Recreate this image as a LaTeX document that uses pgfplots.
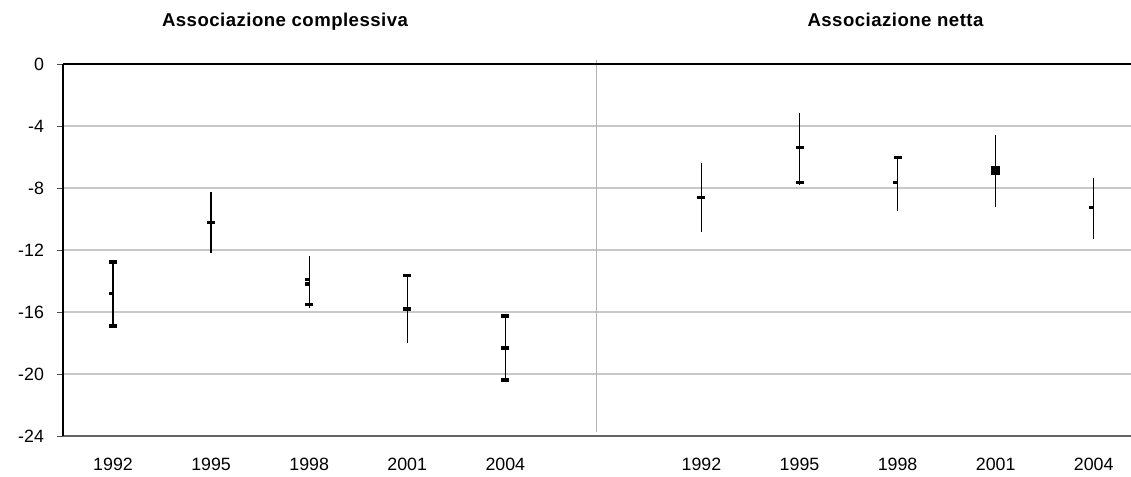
\documentclass[border=0pt]{standalone}
\usepackage{fontspec}
\setmainfont{Liberation Sans}
\usepackage{pgfplots}
\pgfplotsset{compat=1.18}

\definecolor{gridgray}{RGB}{200,200,200}
\definecolor{sepgray}{RGB}{180,180,180}
\definecolor{basegray}{RGB}{100,100,100}

% Small filled mark sitting to the left of the interval line
\pgfdeclareplotmark{lefttick}{%
  \pgfpathrectangle{\pgfpoint{-2.2pt}{-0.85pt}}{\pgfpoint{2.2pt}{1.7pt}}%
  \pgfusepathqfill}
% Wide dash centred on the interval line
\pgfdeclareplotmark{widebar}{%
  \pgfpathrectangle{\pgfpoint{-2pt}{-0.85pt}}{\pgfpoint{4pt}{1.7pt}}%
  \pgfusepathqfill}

\begin{document}
\begin{tikzpicture}
\useasboundingbox (0,0) rectangle (565.5pt,238.5pt);
\begin{axis}[
  at={(31.5pt,20.5pt)}, anchor=south west,
  scale only axis, width=534pt, height=186pt,
  xmin=-0.51, xmax=10.38, ymin=-24, ymax=0,
  axis line style={draw=none},
  clip=false,
  font=\fontsize{8.9pt}{10pt}\selectfont,
  xtick={0,1,2,3,4,6,7,8,9,10},
  xticklabels={1992,1995,1998,2001,2004,1992,1995,1998,2001,2004},
  major x tick style={draw=none},
  xticklabel style={yshift=-4.5pt},
  ytick={-24,-20,-16,-12,-8,-4,0},
  yticklabels={-24,-20,-16,-12,-8,-4,0},
  ymajorgrids, grid style={gridgray, line width=0.8pt},
  tick align=outside, major tick length=3pt,
  y tick style={black!70, line width=0.5pt},
  yticklabel style={xshift=-3pt},
]
% separator between the two panels
\draw[sepgray, line width=0.9pt] (axis cs:4.93,0.26) -- (axis cs:4.93,-23.74);
% frame lines: zero line, base line, left axis
\draw[black, line width=0.9pt] (axis cs:-0.51,0) -- (axis cs:10.38,0);
\draw[basegray, line width=1pt] (axis cs:-0.51,-24) -- (axis cs:10.38,-24);
\draw[black, line width=0.6pt] (axis cs:-0.51,0) -- (axis cs:-0.51,-24);

% interval lines (upper and lower end for each year)
\addplot[black, line width=0.6pt, mark=none, unbounded coords=jump] coordinates {
  (0,-12.77) (0,-17.05) (0,nan)
  (1,-8.28)  (1,-12.21) (1,nan)
  (2,-12.39) (2,-15.72) (2,nan)
  (3,-13.66) (3,-18.02) (3,nan)
  (4,-16.26) (4,-20.45) (4,nan)
  (6,-6.41)  (6,-10.86) (6,nan)
  (7,-3.18)  (7,-7.83)  (7,nan)
  (8,-6.05)  (8,-9.46)  (8,nan)
  (9,-4.58)  (9,-9.25)  (9,nan)
  (10,-7.37) (10,-11.31)
};
% wide dashes
\addplot[only marks, mark=widebar, black] coordinates {
  (0,-12.77) (0,-16.90)
  (1,-10.24)
  (2,-15.53)
  (3,-13.66) (3,-15.81)
  (4,-16.26) (4,-18.32) (4,-20.39)
  (6,-8.63)
  (7,-5.40) (7,-7.66)
  (8,-6.05)
};
% small left-hand marks
\addplot[only marks, mark=lefttick, black] coordinates {
  (0,-14.82)
  (2,-13.92) (2,-14.19)
  (8,-7.66)
  (10,-9.27)
};
% square mark
\addplot[only marks, mark=square*, mark size=2pt, black] coordinates {
  (9,-6.88)
};
\end{axis}
\node[anchor=base, font=\fontsize{9.3pt}{10pt}\selectfont\bfseries\addfontfeature{LetterSpace=2.5}]
  at (142.5pt,225pt) {Associazione complessiva};
\node[anchor=base, font=\fontsize{9.3pt}{10pt}\selectfont\bfseries\addfontfeature{LetterSpace=2.5}]
  at (447.75pt,225pt) {Associazione netta};
\end{tikzpicture}
\end{document}
